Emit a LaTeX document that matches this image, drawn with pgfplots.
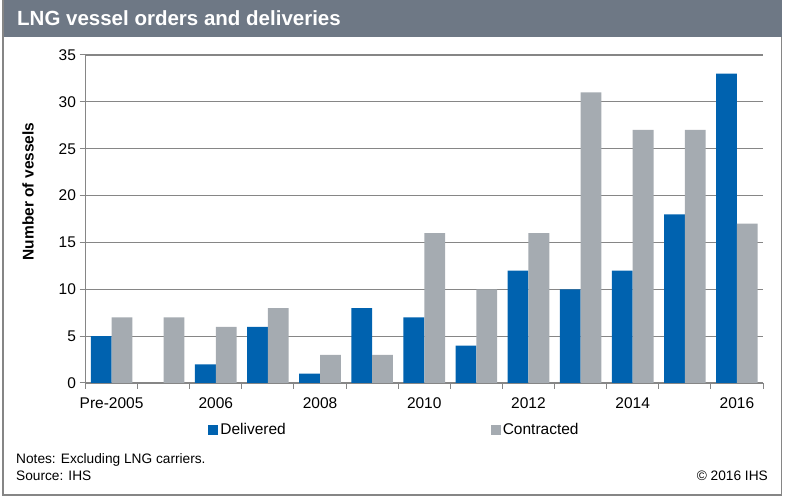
\documentclass[border=0pt]{standalone}
\usepackage{pgfplots}
\pgfplotsset{compat=1.18}
\usepackage{fontspec}
\setmainfont{Liberation Sans}
\definecolor{delblue}{HTML}{0062AF}
\definecolor{congray}{HTML}{A5ABB1}
\definecolor{titlegray}{HTML}{6E7885}
\definecolor{axgray}{HTML}{868686}
\begin{document}
\begin{tikzpicture}[x=1pt,y=1pt]
\path[use as bounding box] (0,0) rectangle (785,498);
\fill[titlegray] (3,461) rectangle (782,498);
\draw[axgray, line width=1.2pt] (3,498) -- (3,3) -- (781.5,3) -- (781.5,461);
\node[anchor=west, text=white, font=\fontsize{20.5}{24}\selectfont\bfseries, inner sep=0] at (17,480) {LNG vessel orders and deliveries};
\begin{axis}[
  at={(85.5pt,115pt)}, anchor=south west,
  scale only axis, width=677.5pt, height=328pt,
  xmin=-0.5, xmax=12.5, ymin=0, ymax=35,
  ybar=0pt, bar width=20.8pt,
  axis x line*=bottom, axis y line*=left,
  axis line style={draw=axgray, line width=1.1pt},
  ytick={0,5,...,35},
  ymajorgrids, grid style={draw=axgray, line width=1.1pt},
  tick align=outside, major tick length=6pt,
  tick style={draw=axgray, line width=1pt},
  xtick={-0.5,0.5,...,12.5}, xticklabels={,,,,,,,,,,,,,},
  extra x ticks={0,2,4,6,8,10,12},
  extra x tick labels={Pre-2005,2006,2008,2010,2012,2014,2016},
  extra x tick style={major tick length=0pt, grid=none},
  ticklabel style={font=\fontsize{15.5}{18}\selectfont},
  xticklabel style={yshift=-11pt},
  /pgf/number format/assume math mode=true,
  ylabel={Number of vessels},
  ylabel style={font=\fontsize{15.5}{18}\selectfont\bfseries, at={(axis description cs:-0.0849,0.584)}, anchor=center},
  legend columns=2,
  legend style={draw=none, at={(axis description cs:0.181,-0.143)}, anchor=west, inner sep=0pt,
    font=\fontsize{15.5}{18}\selectfont,
    nodes={inner sep=2pt},
    /tikz/every even column/.append style={column sep=203pt}},
  legend image code/.code={\fill[#1] (0pt,-5pt) rectangle (10pt,5pt);},
]
\addplot[fill=delblue, draw=none] coordinates {
(0,5) (2,2) (3,6) (4,1) (5,8) (6,7) (7,4) (8,12) (9,10) (10,12) (11,18) (12,33)};
\addlegendentry{Delivered}
\addplot[fill=congray, draw=none] coordinates {
(0,7) (1,7) (2,6) (3,8) (4,3) (5,3) (6,16) (7,10) (8,16) (9,31) (10,27) (11,27) (12,17)};
\addlegendentry{Contracted}
\end{axis}
\node[anchor=west, inner sep=0, font=\fontsize{13.7}{16}\selectfont] at (16,38) {Notes: Excluding LNG carriers.};
\node[anchor=west, inner sep=0, font=\fontsize{13.7}{16}\selectfont] at (16,22) {Source: IHS};
\node[anchor=east, inner sep=0, font=\fontsize{13.7}{16}\selectfont] at (768,22) {\textcopyright{} 2016 IHS};
\end{tikzpicture}
\end{document}
